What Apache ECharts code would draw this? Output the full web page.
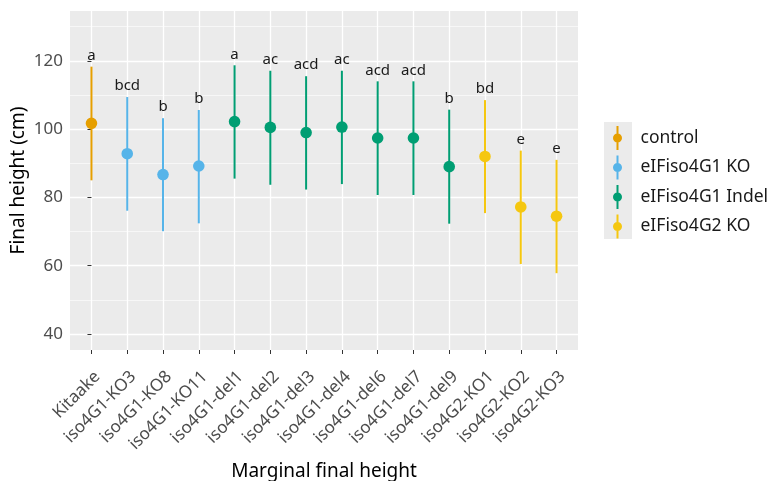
<!DOCTYPE html>
<html>
<head>
<meta charset="utf-8">
<script src="https://cdn.jsdelivr.net/npm/echarts@6/dist/echarts.min.js"></script>
<style>html,body{margin:0;padding:0;background:#fff}#c{width:779px;height:481px}</style>
</head>
<body>
<div id="c"></div>
<script>
const categories = ['Kitaake','iso4G1-KO3','iso4G1-KO8','iso4G1-KO11','iso4G1-del1','iso4G1-del2','iso4G1-del3','iso4G1-del4','iso4G1-del6','iso4G1-del7','iso4G1-del9','iso4G2-KO1','iso4G2-KO2','iso4G2-KO3'];
const means  = [101.7, 92.8, 86.7, 89.2, 102.2, 100.5, 99.0, 100.6, 97.4, 97.4, 89.0, 92.0, 77.2, 74.5];
const lowers = [85.0, 76.1, 70.1, 72.4, 85.5, 83.7, 82.3, 83.9, 80.7, 80.7, 72.3, 75.4, 60.5, 57.8];
const uppers = [118.3, 109.4, 103.2, 105.6, 118.7, 117.1, 115.5, 117.1, 114.0, 114.0, 105.7, 108.5, 93.7, 91.0];
const letters = ['a','bcd','b','b','a','ac','acd','ac','acd','acd','b','bd','e','e'];
const groupOf = [0,1,1,1,2,2,2,2,2,2,2,3,3,3];
const groupNames = ['control','eIFiso4G1 KO','eIFiso4G1 Indel','eIFiso4G2 KO'];
const groupColors = ['#E69F00','#56B4E9','#009E73','#F5C710'];
const yTicks = [40,60,80,100,120];
const yMinor = [50,70,90,110,130];

const FONT = 'Noto Sans';
const idx = categories.map((_, i) => i);

function renderItem(params, api) {
  const x = api.value(0), m = api.value(1), lo = api.value(2), hi = api.value(3);
  const pM = api.coord([x, m]), pL = api.coord([x, lo]), pH = api.coord([x, hi]);
  const color = api.visual('color');
  return {
    type: 'group',
    children: [
      {type: 'line', shape: {x1: pL[0], y1: pL[1], x2: pH[0], y2: pH[1]}, style: {stroke: color, lineWidth: 2}},
      {type: 'circle', shape: {cx: pM[0], cy: pM[1], r: 5.8}, style: {fill: color}},
      {type: 'text', x: pH[0], y: pH[1] - 11, style: {text: letters[x], fill: '#1A1A1A', font: '15px "' + FONT + '"', align: 'center', verticalAlign: 'middle'}}
    ]
  };
}

const series = groupNames.map((name, g) => ({
  name: name,
  type: 'custom',
  renderItem: renderItem,
  itemStyle: {color: groupColors[g]},
  encode: {x: 0, y: 1},
  data: idx.filter(i => groupOf[i] === g).map(i => [i, means[i], lowers[i], uppers[i]])
}));

const icon = 'path://M3.5,0 L5.5,0 L5.5,24 L3.5,24 Z M4.5,7.5 A4.5,4.5 0 1,1 4.5,16.5 A4.5,4.5 0 1,1 4.5,7.5 Z';

const chart = echarts.init(document.getElementById('c'), null, {renderer: 'canvas'});
chart.setOption({
  animation: false,
  backgroundColor: '#fff',
  textStyle: {fontFamily: FONT},
  grid: {left: 70, right: 201, top: 11, bottom: 131, show: true, backgroundColor: '#EBEBEB', borderWidth: 0, containLabel: false, outerBoundsMode: 'none'},
  graphic: [{type: 'rect', left: 604, top: 122, shape: {width: 28, height: 117}, style: {fill: '#EBEBEB'}, z: 0}],
  legend: {
    orient: 'vertical', left: 613, top: 126, padding: 0, itemWidth: 9, itemHeight: 24, itemGap: 5.5,
    icon: icon,
    textStyle: {fontFamily: FONT, fontSize: 17.5, color: '#1A1A1A', padding: [0, 0, 0, 13.5]},
    data: groupNames.map(n => ({name: n, icon: icon}))
  },
  xAxis: {
    type: 'value', min: -0.6, max: 13.6,
    name: 'Marginal final height', nameLocation: 'middle', nameGap: 112, nameMoveOverlap: false,
    nameTextStyle: {fontFamily: FONT, fontSize: 19, color: '#000'},
    axisLine: {show: false},
    axisTick: {show: true, length: 4, lineStyle: {color: '#333'}, customValues: idx},
    axisLabel: {customValues: idx, rotate: 45, margin: 18, verticalAlign: 'top', fontFamily: FONT, fontSize: 17, color: '#4D4D4D', formatter: v => categories[Math.round(v)]},
    splitLine: {show: true, lineStyle: {color: '#fff', width: 1.3}}
  },
  yAxis: [{
    type: 'value', min: 35.3, max: 134.6,
    name: 'Final height (cm)', nameLocation: 'middle', nameGap: 42, nameMoveOverlap: false,
    nameTextStyle: {fontFamily: FONT, fontSize: 19, color: '#000'},
    axisLine: {show: false},
    axisTick: {show: true, length: 4, lineStyle: {color: '#333'}, customValues: yTicks},
    axisLabel: {customValues: yTicks, margin: 7, fontFamily: FONT, fontSize: 17, color: '#4D4D4D'},
    splitLine: {show: true, lineStyle: {color: '#fff', width: 1.3}}
  }, {
    type: 'value', min: 35.3, max: 134.6, position: 'left',
    axisLine: {show: false},
    axisTick: {show: false, customValues: yMinor},
    axisLabel: {show: false, customValues: yMinor},
    splitLine: {show: true, lineStyle: {color: '#fff', width: 0.6}}
  }],
  series: series
});
</script>
</body>
</html>
